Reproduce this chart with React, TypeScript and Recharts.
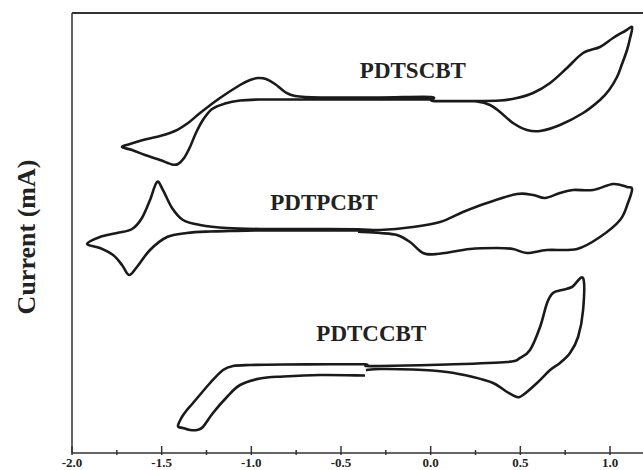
import { LineChart, Line, XAxis, YAxis, ReferenceDot } from 'recharts';

// potential (V) and current (arbitrary, offset per trace)
const scbtPotential = [0.002, -0.283, -0.561, -0.84, -0.952, -1.063, -1.147, -1.219, -1.27, -1.309, -1.342, -1.375, -1.409, -1.442, -1.509, -1.593, -1.665, -1.721,
  -1.677, -1.604, -1.509, -1.426, -1.353, -1.286, -1.175, -1.063, -1.007, -0.963, -0.918, -0.868, -0.812, -0.756, -0.617, -0.283, 0.002,
  0.013, 0.219, 0.387, 0.481, 0.571, 0.666, 0.76, 0.85, 0.944, 1.017, 1.084, 1.123,
  1.112, 1.095, 1.067, 1.039, 0.995, 0.944, 0.85, 0.721, 0.61, 0.537, 0.459, 0.387, 0.331, 0.258, 0.136, 0.013];
const scbtCurrent = [35.35, 35.35, 35.35, 35.35, 35.35, 35.25, 34.95, 34.4, 33.3, 32.0, 30.6, 29.5, 28.9, 28.85, 29.3, 29.8, 30.3, 30.6,
  30.9, 31.3, 31.7, 32.2, 33.0, 34.0, 35.5, 36.8, 37.3, 37.5, 37.4, 36.9, 36.1, 35.7, 35.55, 35.55, 35.6,
  35.2, 35.2, 35.25, 35.5, 36.0, 37.0, 38.5, 40.0, 40.6, 41.5, 42.2, 42.6,
  41.5, 40.3, 38.9, 37.6, 36.3, 35.3, 34.0, 32.8, 32.2, 32.3, 33.0, 34.1, 34.8, 35.15, 35.2, 35.2];

const pcbtPotential = [-0.405, -0.673, -0.952, -1.119, -1.23, -1.359, -1.47, -1.565, -1.638, -1.682, -1.721, -1.771, -1.844, -1.916,
  -1.844, -1.749, -1.665, -1.61, -1.565, -1.526, -1.493, -1.442, -1.381, -1.286, -1.136, -0.952, -0.673, -0.405, -0.283, -0.099, 0.052, 0.18, 0.314, 0.481, 0.571, 0.638, 0.721, 0.794, 0.905, 1.017, 1.095, 1.123,
  1.1, 1.056, 0.944, 0.816, 0.649, 0.537, 0.459, 0.37, 0.219, 0.035, -0.043, -0.115, -0.188, -0.283, -0.405];
const pcbtCurrent = [22.25, 22.25, 22.25, 22.2, 22.15, 22.0, 21.6, 20.3, 18.6, 17.8, 18.8, 19.8, 20.5, 20.9,
  21.6, 22.0, 22.4, 23.5, 25.3, 27.1, 26.3, 24.5, 23.3, 22.8, 22.5, 22.4, 22.4, 22.37, 22.3, 22.6, 23.1, 24.1, 25.0, 25.9, 25.8, 25.5, 26.0, 26.3, 26.3, 26.9, 26.6, 26.4,
  25.0, 23.3, 21.6, 20.4, 20.3, 20.0, 20.4, 20.5, 20.4, 19.9, 20.0, 21.1, 21.8, 22.0, 22.13];

const ccbtPotential = [-0.366, -0.617, -0.823, -0.952, -1.063, -1.136, -1.214, -1.27, -1.303, -1.342, -1.381, -1.409,
  -1.387, -1.359, -1.325, -1.23, -1.158, -1.102, -1.007, -0.823, -0.561, -0.366,
  -0.361, -0.283, 0.091, 0.426, 0.498, 0.554, 0.61, 0.649, 0.682, 0.732, 0.788, 0.85,
  0.85, 0.822, 0.777, 0.721, 0.666, 0.593, 0.515, 0.481, 0.426, 0.348, 0.236, 0.091, -0.099, -0.283, -0.361];
const ccbtCurrent = [7.75, 7.8, 7.65, 7.45, 6.8, 5.6, 4.0, 2.6, 2.3, 2.3, 2.5, 2.7,
  3.6, 4.3, 5.0, 7.0, 8.3, 8.7, 8.8, 8.85, 8.87, 8.87,
  8.7, 8.7, 8.85, 9.1, 9.5, 10.3, 12.6, 15.0, 16.0, 16.3, 16.6, 17.5,
  14.3, 11.6, 10.0, 9.0, 8.3, 7.0, 5.8, 5.6, 6.1, 7.0, 7.6, 8.1, 8.35, 8.4, 8.3];

const curveNames = ['PDTSCBT', 'PDTPCBT', 'PDTCCBT'];
const labelPotential = [-0.099, -0.595, -0.331];
const labelCurrent = [37.5, 24.3, 11.2];

const xTicks = [-2, -1.75, -1.5, -1.25, -1, -0.75, -0.5, -0.25, 0, 0.25, 0.5, 0.75, 1];
const xTickLabels = ['-2.0', '', '-1.5', '', '-1.0', '', '-0.5', '', '0.0', '', '0.5', '', '1.0'];
const xDomain = [-2, 1.184];
const yDomain = [0, 44];

const zip = (v: number[], i: number[]) => v.map((p, k) => ({ v: p, i: i[k] }));
const traces = [zip(scbtPotential, scbtCurrent), zip(pcbtPotential, pcbtCurrent), zip(ccbtPotential, ccbtCurrent)];

const W = 643;
const H = 470;
const plotTop = 13;
const plotLeft = 72;

const serif = '"Liberation Serif", "Times New Roman", serif';
const axisColor = '#333';

// catmull-rom through the points, so closed loops stay smooth without overshoot
function catmullRom(context: any) {
  let pts: number[][] = [];
  return {
    areaStart() {},
    areaEnd() {},
    lineStart() { pts = []; },
    point(x: number, y: number) { pts.push([+x, +y]); },
    lineEnd() {
      if (!pts.length) return;
      context.moveTo(pts[0][0], pts[0][1]);
      for (let k = 0; k < pts.length - 1; k++) {
        const p0 = pts[k - 1] || pts[k];
        const p1 = pts[k];
        const p2 = pts[k + 1];
        const p3 = pts[k + 2] || p2;
        context.bezierCurveTo(
          p1[0] + (p2[0] - p0[0]) / 6, p1[1] + (p2[1] - p0[1]) / 6,
          p2[0] - (p3[0] - p1[0]) / 6, p2[1] - (p3[1] - p1[1]) / 6,
          p2[0], p2[1]
        );
      }
    },
  };
}

const XTick = (props: any) => {
  const { x, y, index } = props;
  const label = xTickLabels[index];
  return (
    <g>
      <line x1={x} x2={x} y1={y} y2={y - (label ? 9 : 5)} stroke={axisColor} strokeWidth={1.5} />
      {label && (
        <text x={x} y={y + 12} textAnchor="middle" fontFamily={serif} fontWeight="bold" fontSize={13} fill="#222">
          {label}
        </text>
      )}
    </g>
  );
};

const YLabel = () => (
  <text x={26} y={237} transform="rotate(-90 26 237)" textAnchor="middle" dominantBaseline="central"
    fontFamily={serif} fontWeight="bold" fontSize={26} fill="#222">
    Current (mA)
  </text>
);

export default function App() {
  return (
    <div style={{ position: 'absolute', left: 0, top: 0, width: W, height: H, background: '#fff' }}>
      <LineChart width={W} height={H} margin={{ top: plotTop, right: 0, bottom: 0, left: 0 }}>
        <XAxis dataKey="v" type="number" domain={xDomain} allowDataOverflow ticks={xTicks} interval={0}
          height={17} tickSize={0} tickLine={false} tick={<XTick />} axisLine={{ stroke: axisColor, strokeWidth: 1.5 }} />
        <YAxis dataKey="i" type="number" domain={yDomain} allowDataOverflow width={plotLeft} tick={false} tickLine={false}
          axisLine={{ stroke: axisColor, strokeWidth: 1.5 }} label={<YLabel />} />
        {traces.map((data, k) => (
          <Line key={curveNames[k]} data={data} dataKey="i" type={catmullRom as any} stroke="#1a1a1a" strokeWidth={2.6}
            dot={false} activeDot={false} isAnimationActive={false} />
        ))}
        {curveNames.map((name, k) => (
          <ReferenceDot key={name} x={labelPotential[k]} y={labelCurrent[k]} r={0}
            shape={(p: any) => (
              <text x={p.cx} y={p.cy} textAnchor="middle" fontFamily={serif} fontWeight="bold" fontSize={23} fill="#222">
                {name}
              </text>
            )} />
        ))}
      </LineChart>
      {/* top frame line, running off the cropped right edge */}
      <div style={{ position: 'absolute', left: plotLeft, top: plotTop - 1, width: W - plotLeft, height: 2, background: axisColor }} />
    </div>
  );
}
